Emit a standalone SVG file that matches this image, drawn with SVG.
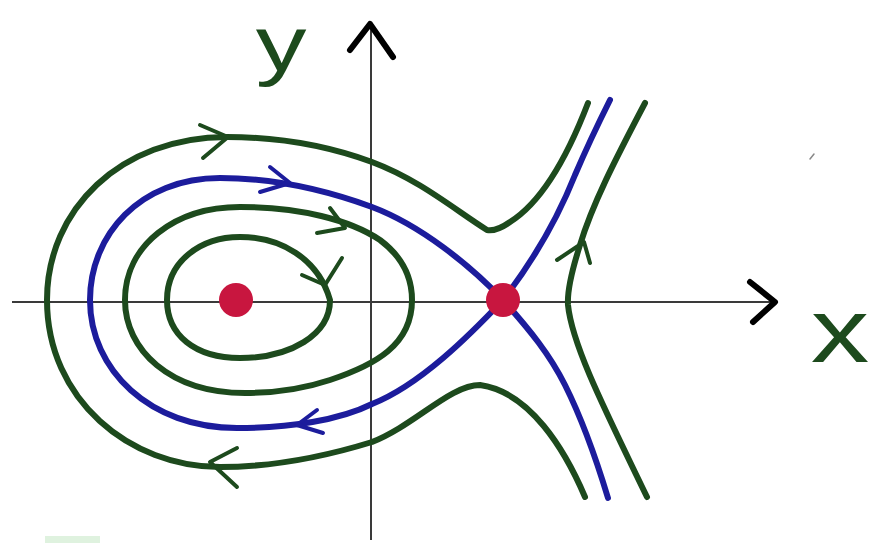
<svg xmlns="http://www.w3.org/2000/svg" width="878" height="543" viewBox="0 0 878 543">
<style>
.axis{fill:none;stroke:#3a3a3a;stroke-width:2}
.head{fill:none;stroke:#000;stroke-width:6;stroke-linecap:round;stroke-linejoin:round}
.g{fill:none;stroke:#1d4a1d;stroke-width:6;stroke-linecap:round;stroke-linejoin:round}
.b{fill:none;stroke:#1c1c9c;stroke-width:6;stroke-linecap:round;stroke-linejoin:round}
.ga{fill:none;stroke:#1d4a1d;stroke-width:4;stroke-linecap:round;stroke-linejoin:round}
.ba{fill:none;stroke:#1c1c9c;stroke-width:4;stroke-linecap:round;stroke-linejoin:round}
.fp{fill:#c8163f}
.lbl{font-family:"Liberation Sans",Arial,sans-serif;fill:#1d4a1d;text-anchor:middle}
</style>
<rect width="878" height="543" fill="#fff"/>
<g id="axes">
<line class="axis" x1="12" y1="302" x2="774" y2="302"/>
<line class="axis" x1="371" y1="24" x2="371" y2="540"/>
<polyline class="head" points="750,282 775,302 753,322"/>
<polyline class="head" points="350,50 370,24 393,57"/>
</g>
<g id="label-y"><text class="lbl" font-size="78" transform="translate(281,71) scale(1.3,1)">y</text></g>
<g id="label-x"><text class="lbl" font-size="90" transform="translate(840,362) scale(1.3,1)">x</text></g>
<g id="connectors">
<path id="orbit-inner" class="g" d="M330,300 C330,335 290,358 240,358 C195,358 167,335 167,300 C167,262 200,237 240,237 C280,237 318,258 330,300 Z"/>
<path id="orbit-2" class="g" d="M412,300 C412,345 375,365 330,380 C300,390 275,393 245,393 C170,393 125,350 125,300 C125,245 175,207 240,207 C300,207 350,220 380,240 C400,255 412,275 412,300 Z"/>
<path id="separatrix" class="b" d="M503,300 C470,265 420,225 372,207 C320,188 270,178 220,178 C140,178 90,235 90,300 C90,370 150,428 237,428 C290,428 340,420 372,404 C420,385 470,335 503,300"/>
<path id="sep-up" class="b" d="M503,300 C530,265 555,225 575,175 C590,140 600,120 610,100"/>
<path id="sep-down" class="b" d="M503,300 C530,330 550,355 565,385 C585,425 598,465 608,498"/>
<path id="orbit-outer" class="g" d="M588,103 C570,150 545,200 510,222 C500,229 492,231 487,230 C455,210 420,180 372,162 C320,143 270,137 227,137 C120,137 47,210 47,300 C47,400 130,467 220,467 C280,467 330,455 372,442 C415,425 450,385 480,385 C530,392 565,450 585,497"/>
<path id="orbit-right" class="g" d="M645,103 C615,160 592,205 580,245 C572,270 567,290 568,305 C572,345 605,410 647,497"/>
<polyline class="ga" points="200,125 228,137 203,158"/>
<polyline class="ba" points="270,167 290,183 260,192"/>
<polyline class="ga" points="330,208 345,228 317,233"/>
<polyline class="ga" points="302,275 325,285 342,258"/>
<polyline class="ba" points="317,410 297,425 323,433"/>
<polyline class="ga" points="237,448 210,462 237,487"/>
<polyline class="ga" points="557,260 584,242 590,263"/>
</g>
<g id="fixed-point-centre"><circle class="fp" cx="236" cy="300" r="17"/></g>
<g id="fixed-point-saddle"><circle class="fp" cx="503" cy="300" r="17"/></g>
<line x1="810" y1="159" x2="814" y2="154" stroke="#888" stroke-width="1.5" stroke-linecap="round"/>
<rect x="45" y="536" width="55" height="7" fill="#dff2df"/>
</svg>
